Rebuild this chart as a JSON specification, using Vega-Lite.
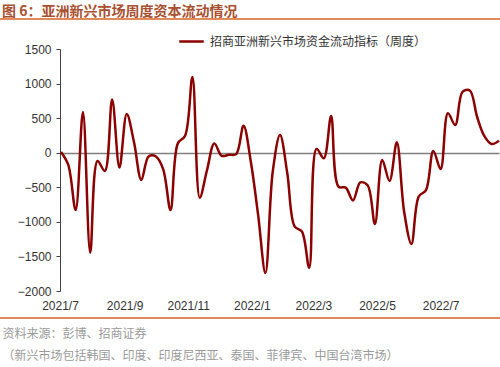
{
  "$schema": "https://vega.github.io/schema/vega-lite/v6.json",
  "width": 439,
  "height": 242,
  "autosize": {"type": "none"},
  "padding": {"left": 60, "top": 49, "right": 1, "bottom": 76},
  "background": "white",
  "title": {
    "text": "图 6：亚洲新兴市场周度资本流动情况",
    "anchor": "start",
    "frame": "group",
    "dx": -58,
    "offset": -1,
    "color": "#A8502F",
    "font": "Noto Sans CJK SC",
    "fontSize": 14,
    "fontWeight": "bold"
  },
  "config": {
    "view": {"stroke": null},
    "axisY": {
      "labelOverlap": false,
      "labelFont": "Liberation Sans",
      "labelFontSize": 12,
      "labelColor": "#333333",
      "domainColor": "#404040",
      "tickColor": "#404040",
      "tickSize": 4,
      "labelPadding": 5,
      "tickCount": 8
    },
    "axisX": {
      "labelOverlap": false,
      "labelFlush": false,
      "grid": false
    }
  },
  "data": {
    "values": [
      {"date": "2021-07-02", "value": 10, "series": "招商亚洲新兴市场资金流动指标（周度）"},
      {"date": "2021-07-09", "value": -180, "series": "招商亚洲新兴市场资金流动指标（周度）"},
      {"date": "2021-07-16", "value": -830, "series": "招商亚洲新兴市场资金流动指标（周度）"},
      {"date": "2021-07-23", "value": 590, "series": "招商亚洲新兴市场资金流动指标（周度）"},
      {"date": "2021-07-30", "value": -1445, "series": "招商亚洲新兴市场资金流动指标（周度）"},
      {"date": "2021-08-06", "value": -120, "series": "招商亚洲新兴市场资金流动指标（周度）"},
      {"date": "2021-08-13", "value": -265, "series": "招商亚洲新兴市场资金流动指标（周度）"},
      {"date": "2021-08-20", "value": 770, "series": "招商亚洲新兴市场资金流动指标（周度）"},
      {"date": "2021-08-27", "value": -215, "series": "招商亚洲新兴市场资金流动指标（周度）"},
      {"date": "2021-09-03", "value": 560, "series": "招商亚洲新兴市场资金流动指标（周度）"},
      {"date": "2021-09-10", "value": 150, "series": "招商亚洲新兴市场资金流动指标（周度）"},
      {"date": "2021-09-17", "value": -395, "series": "招商亚洲新兴市场资金流动指标（周度）"},
      {"date": "2021-09-24", "value": -55, "series": "招商亚洲新兴市场资金流动指标（周度）"},
      {"date": "2021-10-01", "value": -55, "series": "招商亚洲新兴市场资金流动指标（周度）"},
      {"date": "2021-10-08", "value": -240, "series": "招商亚洲新兴市场资金流动指标（周度）"},
      {"date": "2021-10-15", "value": -830, "series": "招商亚洲新兴市场资金流动指标（周度）"},
      {"date": "2021-10-22", "value": 135, "series": "招商亚洲新兴市场资金流动指标（周度）"},
      {"date": "2021-10-29", "value": 245, "series": "招商亚洲新兴市场资金流动指标（周度）"},
      {"date": "2021-11-05", "value": 1095, "series": "招商亚洲新兴市场资金流动指标（周度）"},
      {"date": "2021-11-12", "value": -650, "series": "招商亚洲新兴市场资金流动指标（周度）"},
      {"date": "2021-11-19", "value": -250, "series": "招商亚洲新兴市场资金流动指标（周度）"},
      {"date": "2021-11-26", "value": 135, "series": "招商亚洲新兴市场资金流动指标（周度）"},
      {"date": "2021-12-03", "value": -45, "series": "招商亚洲新兴市场资金流动指标（周度）"},
      {"date": "2021-12-10", "value": -30, "series": "招商亚洲新兴市场资金流动指标（周度）"},
      {"date": "2021-12-17", "value": -20, "series": "招商亚洲新兴市场资金流动指标（周度）"},
      {"date": "2021-12-24", "value": 390, "series": "招商亚洲新兴市场资金流动指标（周度）"},
      {"date": "2021-12-31", "value": -130, "series": "招商亚洲新兴市场资金流动指标（周度）"},
      {"date": "2022-01-07", "value": -900, "series": "招商亚洲新兴市场资金流动指标（周度）"},
      {"date": "2022-01-14", "value": -1740, "series": "招商亚洲新兴市场资金流动指标（周度）"},
      {"date": "2022-01-21", "value": -275, "series": "招商亚洲新兴市场资金流动指标（周度）"},
      {"date": "2022-01-28", "value": 255, "series": "招商亚洲新兴市场资金流动指标（周度）"},
      {"date": "2022-02-04", "value": -300, "series": "招商亚洲新兴市场资金流动指标（周度）"},
      {"date": "2022-02-11", "value": -1065, "series": "招商亚洲新兴市场资金流动指标（周度）"},
      {"date": "2022-02-18", "value": -1140, "series": "招商亚洲新兴市场资金流动指标（周度）"},
      {"date": "2022-02-25", "value": -1665, "series": "招商亚洲新兴市场资金流动指标（周度）"},
      {"date": "2022-03-04", "value": 55, "series": "招商亚洲新兴市场资金流动指标（周度）"},
      {"date": "2022-03-11", "value": -80, "series": "招商亚洲新兴市场资金流动指标（周度）"},
      {"date": "2022-03-18", "value": 530, "series": "招商亚洲新兴市场资金流动指标（周度）"},
      {"date": "2022-03-25", "value": -490, "series": "招商亚洲新兴市场资金流动指标（周度）"},
      {"date": "2022-04-01", "value": -505, "series": "招商亚洲新兴市场资金流动指标（周度）"},
      {"date": "2022-04-08", "value": -690, "series": "招商亚洲新兴市场资金流动指标（周度）"},
      {"date": "2022-04-15", "value": -430, "series": "招商亚洲新兴市场资金流动指标（周度）"},
      {"date": "2022-04-22", "value": -470, "series": "招商亚洲新兴市场资金流动指标（周度）"},
      {"date": "2022-04-29", "value": -1030, "series": "招商亚洲新兴市场资金流动指标（周度）"},
      {"date": "2022-05-06", "value": -105, "series": "招商亚洲新兴市场资金流动指标（周度）"},
      {"date": "2022-05-13", "value": -410, "series": "招商亚洲新兴市场资金流动指标（周度）"},
      {"date": "2022-05-20", "value": 150, "series": "招商亚洲新兴市场资金流动指标（周度）"},
      {"date": "2022-05-27", "value": -850, "series": "招商亚洲新兴市场资金流动指标（周度）"},
      {"date": "2022-06-03", "value": -1320, "series": "招商亚洲新兴市场资金流动指标（周度）"},
      {"date": "2022-06-10", "value": -635, "series": "招商亚洲新兴市场资金流动指标（周度）"},
      {"date": "2022-06-17", "value": -540, "series": "招商亚洲新兴市场资金流动指标（周度）"},
      {"date": "2022-06-24", "value": 25, "series": "招商亚洲新兴市场资金流动指标（周度）"},
      {"date": "2022-07-01", "value": -235, "series": "招商亚洲新兴市场资金流动指标（周度）"},
      {"date": "2022-07-08", "value": 570, "series": "招商亚洲新兴市场资金流动指标（周度）"},
      {"date": "2022-07-15", "value": 400, "series": "招商亚洲新兴市场资金流动指标（周度）"},
      {"date": "2022-07-22", "value": 880, "series": "招商亚洲新兴市场资金流动指标（周度）"},
      {"date": "2022-07-29", "value": 900, "series": "招商亚洲新兴市场资金流动指标（周度）"},
      {"date": "2022-08-05", "value": 520, "series": "招商亚洲新兴市场资金流动指标（周度）"},
      {"date": "2022-08-12", "value": 240, "series": "招商亚洲新兴市场资金流动指标（周度）"},
      {"date": "2022-08-19", "value": 125, "series": "招商亚洲新兴市场资金流动指标（周度）"},
      {"date": "2022-08-26", "value": 175, "series": "招商亚洲新兴市场资金流动指标（周度）"}
    ]
  },
  "layer": [
    {
      "mark": {"type": "line", "interpolate": "catmull-rom", "strokeWidth": 2.5},
      "encoding": {
        "x": {
          "field": "date",
          "type": "temporal",
          "scale": {"type": "utc", "domain": [{"year": 2021, "month": 7, "date": 1, "utc": true}, {"year": 2022, "month": 8, "date": 26, "utc": true}]},
          "axis": {
            "values": [
              {"year": 2021, "month": 7, "date": 1, "utc": true},
              {"year": 2021, "month": 9, "date": 1, "utc": true},
              {"year": 2021, "month": 11, "date": 1, "utc": true},
              {"year": 2022, "month": 1, "date": 1, "utc": true},
              {"year": 2022, "month": 3, "date": 1, "utc": true},
              {"year": 2022, "month": 5, "date": 1, "utc": true},
              {"year": 2022, "month": 7, "date": 1, "utc": true}
            ],
            "format": "%Y/%-m",
            "domain": false,
            "ticks": false,
            "labelPadding": 9,
            "labelFont": "Liberation Sans",
            "labelFontSize": 12,
            "labelColor": "#333333",
            "title": ["资料来源：彭博、招商证券", "（新兴市场包括韩国、印度、印度尼西亚、泰国、菲律宾、中国台湾市场）"],
            "titleFont": "Noto Sans CJK SC",
            "titleFontSize": 12,
            "titleFontWeight": "normal",
            "titleColor": "#9A9A9A",
            "titleAlign": "left",
            "titleAnchor": "start",
            "titleBaseline": "top",
            "titleX": -58,
            "titleY": 37,
            "titleLineHeight": 22
          }
        },
        "y": {
          "field": "value",
          "type": "quantitative",
          "scale": {"domain": [-2000, 1500], "nice": false, "zero": false},
          "axis": {
            "values": [-2000, -1500, -1000, -500, 0, 500, 1000, 1500],
            "format": "d",
            "title": null,
            "grid": true,
            "gridColor": {"condition": {"test": "datum.value === 0", "value": "#7F7F7F"}, "value": "transparent"},
            "gridWidth": 1.5
          }
        },
        "color": {
          "field": "series",
          "type": "nominal",
          "scale": {"range": ["#8B0000"]},
          "legend": {
            "title": null,
            "orient": "none",
            "legendX": 118,
            "legendY": -21,
            "padding": 0,
            "symbolType": "stroke",
            "symbolSize": 600,
            "symbolStrokeWidth": 2.5,
            "labelFont": "Noto Sans CJK SC",
            "labelFontSize": 12,
            "labelColor": "#333333",
            "labelOffset": 5,
            "labelLimit": 400
          }
        }
      }
    },
    {
      "mark": {"type": "rule", "clip": false, "color": "#E08A5C", "strokeWidth": 1},
      "encoding": {
        "x": {"datum": {"year": 2021, "month": 5, "date": 3, "utc": true}, "type": "temporal"},
        "x2": {"datum": {"year": 2022, "month": 8, "date": 29, "utc": true}},
        "y": {"datum": 1934, "type": "quantitative"}
      }
    },
    {
      "mark": {"type": "rule", "clip": false, "color": "#E08A5C", "strokeWidth": 1},
      "encoding": {
        "x": {"datum": {"year": 2021, "month": 5, "date": 3, "utc": true}, "type": "temporal"},
        "x2": {"datum": {"year": 2022, "month": 8, "date": 29, "utc": true}},
        "y": {"datum": -2391, "type": "quantitative"}
      }
    }
  ]
}
